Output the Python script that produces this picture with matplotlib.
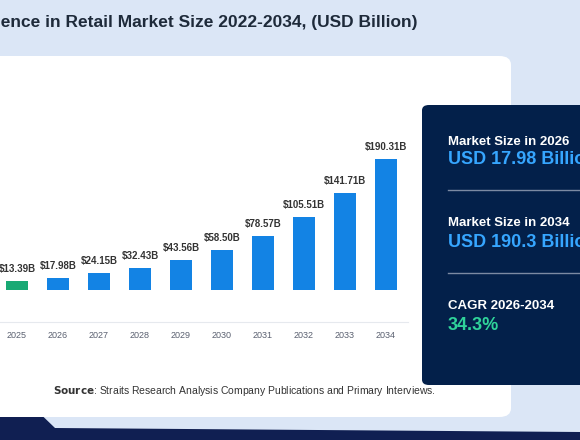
import matplotlib.pyplot as plt
from matplotlib.patches import FancyBboxPatch, Polygon

years = [2025, 2026, 2027, 2028, 2029, 2030, 2031, 2032, 2033, 2034]
values = [13.39, 17.98, 24.15, 32.43, 43.56, 58.50, 78.57, 105.51, 141.71, 190.31]
labels = ['$13.39B', '$17.98B', '$24.15B', '$32.43B', '$43.56B', '$58.50B',
          '$78.57B', '$105.51B', '$141.71B', '$190.31B']
colors = ['#19a974'] + ['#1383e4'] * 9

plt.rcParams['font.family'] = ['Liberation Sans', 'DejaVu Sans']
W, H = 580, 440
fig = plt.figure(figsize=(5.8, 4.4), dpi=100)
fig.patch.set_facecolor('#dbe6f6')

def fx(px):
    return px / W

def fy(py):
    return 1 - py / H

# dark swoosh bottom-left and bottom strip
fig.patches.append(Polygon([(0, fy(375)), (fx(55), fy(428)), (1, fy(432)), (1, 0), (0, 0)],
                           closed=True, transform=fig.transFigure, facecolor='#101f52', zorder=0))
# white panel
fig.patches.append(FancyBboxPatch((fx(-20), fy(417)), fx(531), fy(56) - fy(417),
                                  boxstyle='round,pad=0,rounding_size=0.02',
                                  transform=fig.transFigure, facecolor='white', edgecolor='none', zorder=1))
# dark info panel
fig.patches.append(FancyBboxPatch((fx(422), fy(385)), fx(180), fy(105) - fy(385),
                                  boxstyle='round,pad=0,rounding_size=0.012',
                                  transform=fig.transFigure, facecolor='#03204a', edgecolor='none', zorder=2))

fig.text(fx(418), fy(22), 'Artificial Intelligence in Retail Market Size 2022-2034, (USD Billion)',
         ha='right', va='center', fontsize=12.5, fontweight='bold', color='#1e2a3a')

# bar chart
ax = fig.add_axes([0, fy(290), fx(410), fy(140) - fy(290)])
ax.set_zorder(3)
ax.patch.set_alpha(0)
ax.bar(years, values, width=0.55, color=colors)
for x, v, t in zip(years, values, labels):
    ax.annotate(t, (x, v), xytext=(0, 5), textcoords='offset points', ha='center', va='bottom',
                fontsize=7, fontweight='bold', color='#333333')
ax.set_xlim(2025 - 17 / 41, 2025 + 393 / 41)
ax.set_ylim(0, 150 / 0.688)
ax.axis('off')

fig.lines.append(plt.Line2D([0, fx(408)], [fy(322), fy(322)], transform=fig.transFigure,
                            color='#e6e9ee', lw=0.8, zorder=3))
for x in years:
    fig.text(fx(17 + (x - 2025) * 41), fy(335), str(x), ha='center', va='center',
             fontsize=6.5, color='#5a6070', zorder=4)

# info panel texts
fig.text(fx(448), fy(142), 'Market Size in 2026', fontsize=9.5, fontweight='bold', color='white', va='center', zorder=4)
fig.text(fx(448), fy(160), 'USD 17.98 Billion', fontsize=13, fontweight='bold', color='#36a6ff', va='center', zorder=4)
fig.lines.append(plt.Line2D([fx(448), 1], [fy(190), fy(190)], transform=fig.transFigure, color='#7c8aa3', lw=1, zorder=4))
fig.text(fx(448), fy(223), 'Market Size in 2034', fontsize=9.5, fontweight='bold', color='white', va='center', zorder=4)
fig.text(fx(448), fy(242), 'USD 190.3 Billion', fontsize=13, fontweight='bold', color='#36a6ff', va='center', zorder=4)
fig.lines.append(plt.Line2D([fx(448), 1], [fy(273), fy(273)], transform=fig.transFigure, color='#7c8aa3', lw=1, zorder=4))
fig.text(fx(448), fy(306), 'CAGR 2026-2034', fontsize=9.5, fontweight='bold', color='white', va='center', zorder=4)
fig.text(fx(448), fy(325), '34.3%', fontsize=13, fontweight='bold', color='#2fd39a', va='center', zorder=4)

fig.text(fx(53), fy(391), r'$\bf{Source}$: Straits Research Analysis Company Publications and Primary Interviews.',
         fontsize=7.5, color='#333333', va='center', zorder=4)

fig.savefig('out.png', dpi=100)
